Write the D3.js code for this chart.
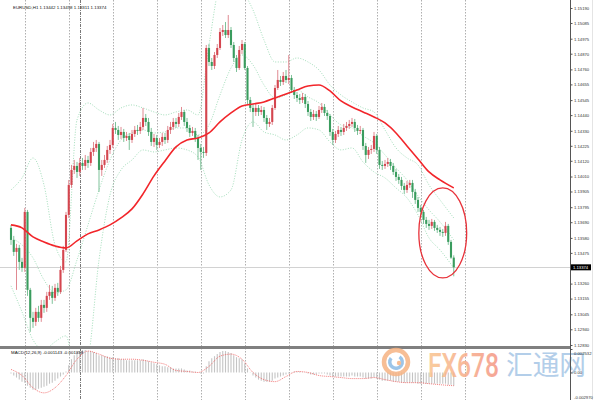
<!DOCTYPE html>
<html><head><meta charset="utf-8">
<script src="https://cdn.jsdelivr.net/npm/d3@7"></script>
<style>html,body{margin:0;padding:0;background:#fff;overflow:hidden}svg{display:block}</style>
</head><body><svg id="c" width="606" height="400"></svg>
<script>
// ---------------- DATA ----------------
const symbolTitle = "EURUSD,H1";
const lastQuote = ["1.13442", "1.13458", "1.13311", "1.13374"]; // O H L C of last bar
const macdTitle = "MACD(12,26,9) -0.001143 -0.001358";
const firstOpen = 1.13650;
const close = [
 1.13566,1.13482,1.13510,1.13412,1.13370,1.13762,1.13216,1.13020,1.12992,1.13062,
 1.13020,1.13111,1.13090,1.13174,1.13202,1.13160,1.13230,1.13202,1.13356,1.13496,
 1.13741,1.13951,1.14056,1.14084,1.14042,1.14105,1.14084,1.14126,1.14105,1.14182,
 1.14210,1.14238,1.14056,1.14091,1.14126,1.14196,1.14231,1.14350,1.14336,1.14301,
 1.14322,1.14280,1.14294,1.14266,1.14308,1.14336,1.14329,1.14357,1.14420,1.14392,
 1.14322,1.14252,1.14280,1.14231,1.14252,1.14287,1.14266,1.14336,1.14357,1.14392,
 1.14378,1.14427,1.14462,1.14392,1.14350,1.14315,1.14329,1.14280,1.14210,1.14182,
 1.14175,1.14910,1.14812,1.14784,1.14861,1.14910,1.15022,1.15036,1.15001,1.15036,
 1.14931,1.14840,1.14770,1.14896,1.14938,1.14770,1.14546,1.14490,1.14462,1.14490,
 1.14462,1.14476,1.14420,1.14378,1.14392,1.14490,1.14630,1.14686,1.14672,1.14714,
 1.14686,1.14700,1.14616,1.14581,1.14560,1.14546,1.14567,1.14518,1.14462,1.14427,
 1.14448,1.14427,1.14476,1.14497,1.14455,1.14434,1.14322,1.14266,1.14308,1.14336,
 1.14322,1.14350,1.14364,1.14378,1.14392,1.14350,1.14329,1.14336,1.14224,1.14161,
 1.14196,1.14203,1.14294,1.14196,1.14091,1.14084,1.14098,1.14112,1.14084,1.14042,
 1.14007,1.13986,1.13944,1.13916,1.13951,1.13965,1.13902,1.13846,1.13790,1.13762,
 1.13706,1.13678,1.13664,1.13692,1.13650,1.13636,1.13622,1.13615,1.13664,1.13552,
 1.13442,1.13374];
const high = [
 1.13671,1.13594,1.13538,1.13531,1.13440,1.13790,1.13776,1.13230,1.13062,1.13090,
 1.13104,1.13146,1.13146,1.13202,1.13251,1.13244,1.13258,1.13265,1.13384,1.13524,
 1.13762,1.13986,1.14091,1.14126,1.14112,1.14140,1.14140,1.14161,1.14154,1.14210,
 1.14252,1.14266,1.14252,1.14126,1.14161,1.14224,1.14266,1.14378,1.14392,1.14364,
 1.14357,1.14343,1.14322,1.14315,1.14336,1.14364,1.14371,1.14392,1.14490,1.14448,
 1.14420,1.14350,1.14308,1.14301,1.14280,1.14315,1.14315,1.14364,1.14392,1.14420,
 1.14420,1.14455,1.14497,1.14476,1.14420,1.14371,1.14357,1.14350,1.14301,1.14238,
 1.14217,1.14931,1.14938,1.14840,1.14882,1.14938,1.15050,1.15071,1.15092,1.15141,
 1.15057,1.14952,1.14861,1.14924,1.14966,1.14952,1.14784,1.14567,1.14518,1.14518,
 1.14511,1.14504,1.14497,1.14441,1.14420,1.14511,1.14651,1.14756,1.14714,1.14742,
 1.14756,1.14861,1.14721,1.14637,1.14602,1.14588,1.14595,1.14588,1.14539,1.14483,
 1.14476,1.14469,1.14504,1.14525,1.14518,1.14476,1.14448,1.14343,1.14329,1.14364,
 1.14357,1.14378,1.14392,1.14406,1.14420,1.14413,1.14371,1.14364,1.14350,1.14245,
 1.14217,1.14231,1.14322,1.14308,1.14217,1.14119,1.14126,1.14140,1.14133,1.14105,
 1.14063,1.14028,1.14007,1.13965,1.13979,1.13986,1.13986,1.13923,1.13867,1.13811,
 1.13776,1.13727,1.13706,1.13713,1.13706,1.13671,1.13657,1.13643,1.13692,1.13678,
 1.13566,1.13458];
const low = [
 1.13531,1.13454,1.13216,1.13356,1.13342,1.13342,1.13174,1.12922,1.12950,1.12964,
 1.12992,1.12992,1.13055,1.13062,1.13146,1.13118,1.13139,1.13174,1.13188,1.13335,
 1.13482,1.13720,1.13930,1.14028,1.14000,1.14014,1.14056,1.14056,1.14070,1.14084,
 1.14154,1.14182,1.13902,1.14014,1.14070,1.14105,1.14168,1.14210,1.14308,1.14266,
 1.14273,1.14252,1.14259,1.14196,1.14245,1.14287,1.14301,1.14308,1.14336,1.14364,
 1.14294,1.14224,1.14217,1.14196,1.14210,1.14224,1.14238,1.14245,1.14308,1.14336,
 1.14350,1.14357,1.14406,1.14364,1.14322,1.14287,1.14294,1.14252,1.14126,1.14056,
 1.14140,1.14154,1.14784,1.14756,1.14763,1.14840,1.14896,1.14994,1.14980,1.14980,
 1.14910,1.14812,1.14742,1.14756,1.14868,1.14756,1.14518,1.14462,1.14357,1.14434,
 1.14434,1.14441,1.14392,1.14336,1.14357,1.14371,1.14476,1.14616,1.14644,1.14651,
 1.14665,1.14658,1.14595,1.14553,1.14532,1.14518,1.14525,1.14490,1.14434,1.14399,
 1.14406,1.14399,1.14413,1.14455,1.14434,1.14406,1.14294,1.14231,1.14245,1.14287,
 1.14294,1.14301,1.14329,1.14343,1.14357,1.14322,1.14301,1.14308,1.14196,1.14105,
 1.14133,1.14168,1.14182,1.14168,1.14063,1.14056,1.14063,1.14077,1.14056,1.14021,
 1.13979,1.13958,1.13916,1.13888,1.13895,1.13930,1.13860,1.13818,1.13762,1.13734,
 1.13678,1.13650,1.13636,1.13643,1.13629,1.13615,1.13594,1.13587,1.13594,1.13531,
 1.13433,1.13311];

// indicator samples (bar index -> value)
const sampleIdx = [0,4,8,12,16,20,24,28,32,36,40,44,48,52,56,60,64,68,72,76,80,84,88,92,96,100,104,108,112,116,120,124,128,132,136,140,144,148,152,156,161];
const maValues = [1.13671,1.13650,1.13587,1.13552,1.13524,1.13510,1.13559,1.13608,1.13636,1.13671,1.13720,1.13783,1.13888,1.14014,1.14119,1.14217,1.14266,1.14280,1.14315,1.14392,1.14455,1.14504,1.14518,1.14532,1.14560,1.14588,1.14616,1.14644,1.14651,1.14609,1.14539,1.14497,1.14462,1.14427,1.14385,1.14315,1.14224,1.14133,1.14042,1.13986,1.13930];
const bbUpper = [1.13916,1.14000,1.14140,1.13951,1.13531,1.13412,1.14406,1.14525,1.14476,1.14441,1.14490,1.14511,1.14490,1.14462,1.14441,1.14462,1.14476,1.14441,1.14931,1.15351,1.15421,1.15316,1.15176,1.14966,1.14812,1.14812,1.14840,1.14812,1.14756,1.14651,1.14581,1.14532,1.14490,1.14462,1.14336,1.14210,1.14140,1.14091,1.13951,1.13846,1.13720];
const bbMiddle = [1.13580,1.13531,1.13440,1.13286,1.13195,1.13216,1.13426,1.13671,1.13916,1.14126,1.14266,1.14315,1.14336,1.14315,1.14322,1.14350,1.14350,1.14301,1.14371,1.14581,1.14770,1.14861,1.14791,1.14651,1.14560,1.14581,1.14616,1.14567,1.14525,1.14441,1.14371,1.14350,1.14294,1.14245,1.14161,1.14070,1.13986,1.13874,1.13776,1.13692,1.13566];
const bbLower = [1.13244,1.13062,1.12866,1.12796,1.12852,1.12894,1.12551,1.12726,1.13426,1.13881,1.14056,1.14126,1.14196,1.14182,1.14196,1.14210,1.14196,1.14147,1.13951,1.13867,1.13916,1.14266,1.14392,1.14322,1.14301,1.14266,1.14301,1.14350,1.14336,1.14252,1.14196,1.14210,1.14112,1.14042,1.14000,1.13930,1.13860,1.13741,1.13580,1.13496,1.13370];

const macdMain = [
 -0.00011,-0.00033,-0.00055,-0.00077,-0.00099,-0.00110,-0.00143,-0.00165,-0.00187,-0.00187,
 -0.00176,-0.00165,-0.00154,-0.00143,-0.00121,-0.00110,-0.00088,-0.00066,-0.00044,-0.00022,
 0.00011,0.00077,0.00143,0.00187,0.00220,0.00231,0.00242,0.00242,0.00231,0.00231,
 0.00220,0.00209,0.00187,0.00187,0.00176,0.00176,0.00165,0.00165,0.00154,0.00154,
 0.00143,0.00143,0.00132,0.00132,0.00132,0.00132,0.00132,0.00132,0.00143,0.00132,
 0.00121,0.00110,0.00099,0.00088,0.00077,0.00066,0.00066,0.00055,0.00055,0.00044,
 0.00044,0.00044,0.00044,0.00033,0.00022,0.00022,0.00011,0.00011,0.00003,-0.00011,
 -0.00011,0.00066,0.00121,0.00154,0.00176,0.00198,0.00220,0.00231,0.00231,0.00220,
 0.00209,0.00187,0.00165,0.00154,0.00143,0.00099,0.00044,0.00003,-0.00033,-0.00055,
 -0.00077,-0.00088,-0.00099,-0.00099,-0.00099,-0.00088,-0.00066,-0.00055,-0.00044,-0.00033,
 -0.00022,-0.00011,0.00003,0.00011,0.00011,0.00011,0.00004,-0.00004,-0.00011,-0.00022,
 -0.00022,-0.00022,-0.00011,-0.00011,-0.00011,-0.00022,-0.00033,-0.00044,-0.00044,-0.00044,
 -0.00044,-0.00044,-0.00044,-0.00044,-0.00033,-0.00044,-0.00044,-0.00044,-0.00055,-0.00066,
 -0.00066,-0.00066,-0.00055,-0.00066,-0.00077,-0.00088,-0.00088,-0.00088,-0.00088,-0.00099,
 -0.00099,-0.00099,-0.00110,-0.00110,-0.00110,-0.00110,-0.00110,-0.00110,-0.00121,-0.00121,
 -0.00121,-0.00121,-0.00121,-0.00121,-0.00121,-0.00121,-0.00121,-0.00121,-0.00121,-0.00132,
 -0.00132,-0.00143];
const macdSignal = [0.00033,-0.00033,-0.00165,-0.00220,-0.00165,-0.00033,0.00143,0.00231,0.00198,0.00154,0.00143,0.00143,0.00132,0.00110,0.00088,0.00022,0.00011,0.00000,0.00066,0.00176,0.00198,0.00143,0.00000,-0.00077,-0.00099,-0.00044,0.00011,0.00000,-0.00033,-0.00044,-0.00055,-0.00066,-0.00066,-0.00055,-0.00077,-0.00099,-0.00110,-0.00110,-0.00121,-0.00132,-0.00143];

const priceTicks = [1.15190,1.15085,1.14975,1.14870,1.14760,1.14655,1.14545,1.14440,1.14330,1.14225,1.14120,1.14010,1.13905,1.13795,1.13690,1.13580,1.13475,1.13260,1.13155,1.13045,1.12940,1.12830];
const macdTicks = [0.002532, 0, -0.00297];
const macdTickLabels = ["0.002532", "0.00", "-0.002970"];
const daySeparators = [5,21,37,53,69,85,101,117,133,149,165];
const markerLines = [25];
const lastPrice = 1.13374;
const highlight = {bar: 157, price: 1.13615, halfBars: 8.7, halfPrice: 0.00315};

// ---------------- LAYOUT ----------------
const svg = d3.select("#c");
const axisX = 570, mainBottom = 346, macdTop = 349, H = 400;
const x = d3.scaleLinear().domain([0, 161]).range([11, 453.75]);
const y = d3.scaleLinear().domain([1.15190, 1.12830]).range([8, 345]);
const ym = d3.scaleLinear().domain([0.002532, -0.00297]).range([349, 400]);
const FONT = "'Liberation Sans', Arial, sans-serif";

const defs = svg.append("defs");
defs.append("clipPath").attr("id","clipMain").append("rect").attr("x",0).attr("y",0).attr("width",axisX).attr("height",mainBottom);
defs.append("clipPath").attr("id","clipMacd").append("rect").attr("x",0).attr("y",macdTop).attr("width",axisX).attr("height",H-macdTop);
const grad = defs.append("linearGradient").attr("id","fxg").attr("x1","0").attr("x2","1").attr("y1","0").attr("y2","0");
grad.append("stop").attr("offset","0").attr("stop-color","#f9c48e");
grad.append("stop").attr("offset","1").attr("stop-color","#f49684");

svg.append("rect").attr("width",606).attr("height",400).attr("fill","#fff");

// separators (full height)
const sepG = svg.append("g");
sepG.selectAll("line.sep").data(daySeparators).join("line")
  .attr("x1", d => Math.round(x(d)) + 0.5).attr("x2", d => Math.round(x(d)) + 0.5)
  .attr("y1", 0).attr("y2", H)
  .attr("stroke", "#9a9a9a").attr("stroke-width", 0.8).attr("stroke-dasharray", "1.5,1.5");
sepG.selectAll("line.mk").data(markerLines).join("line")
  .attr("x1", d => Math.round(x(d)) + 0.5).attr("x2", d => Math.round(x(d)) + 0.5)
  .attr("y1", 0).attr("y2", H)
  .attr("stroke", "#555").attr("stroke-width", 0.8).attr("stroke-dasharray", "3,1,1,1");

// main panel
const main = svg.append("g").attr("clip-path","url(#clipMain)");

// current price line
main.append("line").attr("x1",0).attr("x2",axisX).attr("y1",Math.round(y(lastPrice))+0.5).attr("y2",Math.round(y(lastPrice))+0.5)
  .attr("stroke","#d2d2d2").attr("stroke-width",1);

// Bollinger bands
const bandLine = arr => d3.line().x((d,i)=>x(sampleIdx[i])).y(d=>y(d)).curve(d3.curveMonotoneX)(arr);
[bbUpper, bbMiddle, bbLower].forEach(arr => {
  main.append("path").attr("d", bandLine(arr)).attr("fill","none")
    .attr("stroke","#7fcf9f").attr("stroke-width",0.8).attr("stroke-dasharray","1,1.6").attr("opacity",0.9);
});

// candles
const open = close.map((c,i) => i === 0 ? firstOpen : close[i-1]);
const bars = d3.range(close.length).map(i => ({
  i, o: open[i], c: close[i],
  h: Math.max(high[i], open[i], close[i]),
  l: Math.min(low[i], open[i], close[i])
}));
const upC = "#d4464f", dnC = "#3a9c5e";
const cg = main.append("g");
cg.selectAll("line").data(bars).join("line")
  .attr("x1", d => x(d.i)).attr("x2", d => x(d.i))
  .attr("y1", d => y(d.h)).attr("y2", d => y(d.l))
  .attr("stroke", d => d.c >= d.o ? "#e08a92" : "#7fc29a").attr("stroke-width", 1);
cg.selectAll("rect").data(bars).join("rect")
  .attr("x", d => x(d.i) - 1.05).attr("width", 2.1)
  .attr("y", d => Math.min(y(d.o), y(d.c)))
  .attr("height", d => Math.max(0.8, Math.abs(y(d.o) - y(d.c))))
  .attr("fill", d => d.c >= d.o ? upC : dnC);

// moving average
main.append("path").attr("d", bandLine(maValues)).attr("fill","none")
  .attr("stroke","#f2262b").attr("stroke-width",1.6);

// highlight ellipse
main.append("ellipse")
  .attr("cx", x(highlight.bar)).attr("cy", y(highlight.price))
  .attr("rx", x(highlight.bar + highlight.halfBars) - x(highlight.bar))
  .attr("ry", y(highlight.price - highlight.halfPrice) - y(highlight.price))
  .attr("fill","none").attr("stroke","#e8323a").attr("stroke-width",1.3);

// title
svg.append("text").attr("x",13).attr("y",8.5).attr("font-family",FONT).attr("font-size",4.4).attr("fill","#111")
  .text(symbolTitle + "  " + lastQuote.join(" "));

// panel separator
svg.append("rect").attr("x",0).attr("y",mainBottom).attr("width",axisX).attr("height",3).attr("fill","#808080");

// MACD panel
const mg = svg.append("g").attr("clip-path","url(#clipMacd)");
mg.selectAll("line").data(macdMain).join("line")
  .attr("x1",(d,i)=>x(i)).attr("x2",(d,i)=>x(i))
  .attr("y1", ym(0)).attr("y2", d => ym(d))
  .attr("stroke","#c4c4c4").attr("stroke-width",1.1);
mg.append("path")
  .attr("d", d3.line().x((d,i)=>x(sampleIdx[i])).y(d=>ym(d)).curve(d3.curveMonotoneX)(macdSignal))
  .attr("fill","none").attr("stroke","#f05a5a").attr("stroke-width",0.8).attr("stroke-dasharray","1,1");
svg.append("text").attr("x",11).attr("y",354).attr("font-family",FONT).attr("font-size",4.4).attr("fill","#111")
  .text(macdTitle);

// watermark
const wm = svg.append("g").attr("opacity",0.85);
wm.append("circle").attr("cx",396).attr("cy",362).attr("r",12).attr("fill","none").attr("stroke","#f6b383").attr("stroke-width",4.5);
wm.append("path").attr("d", d3.arc()({innerRadius:4.5, outerRadius:8, startAngle:0.6, endAngle:5.4}))
  .attr("transform","translate(396,362)").attr("fill","#8dbbe4");
wm.append("circle").attr("cx",399).attr("cy",363).attr("r",2.2).attr("fill","#f6b383");
wm.append("text").attr("x",428).attr("y",377).attr("font-family","Roboto, 'Open Sans', sans-serif").attr("font-weight",500)
  .attr("font-size",34).attr("textLength",71).attr("lengthAdjust","spacingAndGlyphs").attr("fill","url(#fxg)").text("FX678");
wm.append("text").attr("x",506).attr("y",375).attr("font-family","'Noto Sans CJK SC', sans-serif")
  .attr("font-size",27).attr("textLength",80).attr("lengthAdjust","spacingAndGlyphs").attr("fill","#a6c6e6").text("汇通网");

// right axis
svg.append("line").attr("x1",axisX+0.5).attr("x2",axisX+0.5).attr("y1",0).attr("y2",H).attr("stroke","#555").attr("stroke-width",1);
svg.append("line").attr("x1",592.5).attr("x2",592.5).attr("y1",0).attr("y2",H).attr("stroke","#e4e4e4").attr("stroke-width",1);
const ax = svg.append("g").attr("transform",`translate(${axisX+0.5},0)`)
  .call(d3.axisRight(y).tickValues(priceTicks).tickSize(2).tickPadding(1.5).tickFormat(d3.format(".5f")));
ax.select(".domain").remove();
ax.selectAll("text").attr("font-family",FONT).attr("font-size",4.2).attr("fill","#333");
ax.selectAll("line").attr("stroke","#555");
const axm = svg.append("g").attr("transform",`translate(${axisX+0.5},0)`)
  .call(d3.axisRight(ym).tickValues(macdTicks).tickSize(2).tickPadding(1.5).tickFormat((d,i)=>macdTickLabels[i]));
axm.select(".domain").remove();
axm.selectAll("text").attr("font-family",FONT).attr("font-size",4.2).attr("fill","#333")
  .attr("dy",(d,i)=> i===0 ? "1.2em" : (i===2 ? "-0.3em" : "0.32em"));
axm.selectAll("line").attr("stroke","#555");

// last price tag
const ly = y(lastPrice);
svg.append("rect").attr("x",axisX+1).attr("y",ly-3).attr("width",20).attr("height",6).attr("fill","#000");
svg.append("text").attr("x",axisX+3).attr("y",ly+1.5).attr("font-family",FONT).attr("font-size",4.2).attr("fill","#fff").text(lastPrice.toFixed(5));
</script></body></html>
